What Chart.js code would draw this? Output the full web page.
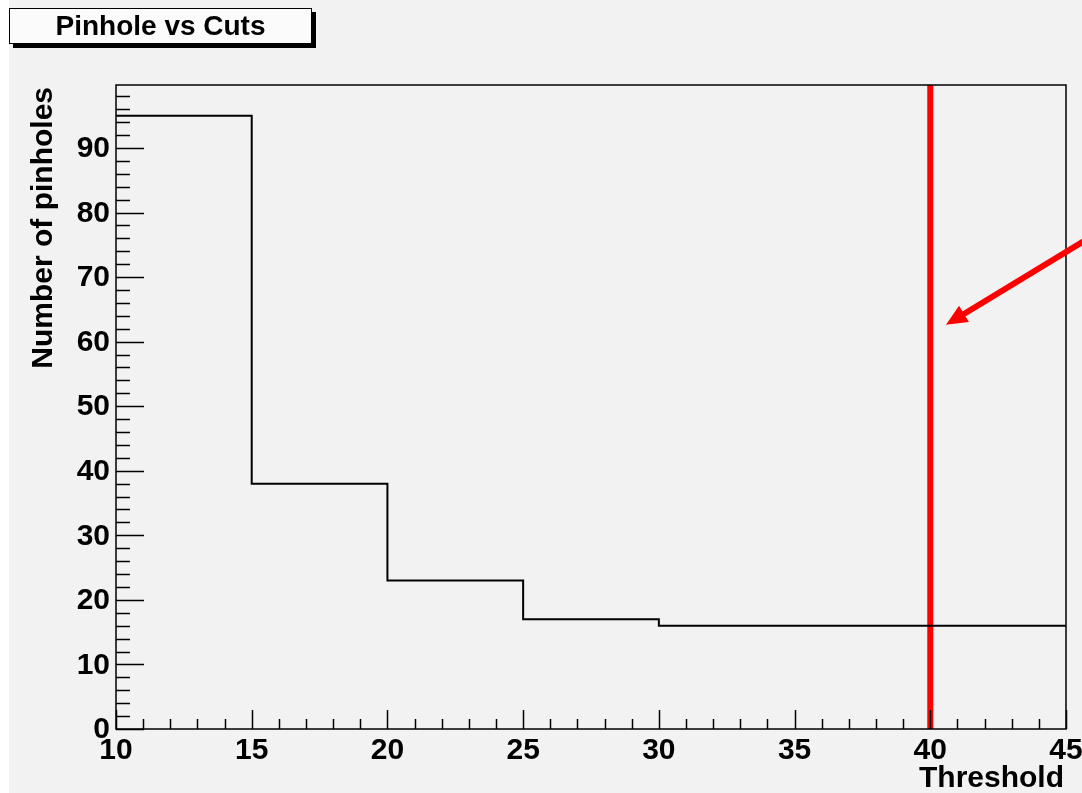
<!DOCTYPE html>
<html>
<head>
<meta charset="utf-8">
<script src="https://cdn.jsdelivr.net/npm/chart.js@4/dist/chart.umd.min.js"></script>
<style>
  html, body { margin: 0; padding: 0; background: #ffffff; }
  canvas { display: block; }
</style>
</head>
<body>
<canvas id="c" width="1082" height="793"></canvas>
<script>
// ---- data ----
const binEdges = [10, 15, 20, 25, 30, 35, 40, 45];
const pinholeCounts = [95, 38, 23, 17, 16, 16, 16];
const cutThreshold = 40;
const xTickLabels = [10, 15, 20, 25, 30, 35, 40, 45];
const yTickLabels = [0, 10, 20, 30, 40, 50, 60, 70, 80, 90];
const xRange = [10, 45];
const yRange = [0, 99.75];
const arrowTail = { x: 46.25, y: 77.1 };
const arrowHead = { x: 40.58, y: 62.6 };
const titleText = 'Pinhole vs Cuts';
const xTitle = 'Threshold';
const yTitle = 'Number of pinholes';

const histPoints = binEdges.map((x, i) => ({ x: x, y: pinholeCounts[Math.min(i, pinholeCounts.length - 1)] }));
const cutLine = [{ x: cutThreshold, y: yRange[0] }, { x: cutThreshold, y: yRange[1] }];

const FONT = 'bold 30px "Liberation Sans", Arial, Helvetica, sans-serif';

const rootStyle = {
  id: 'rootStyle',
  beforeDraw(chart) {
    const ctx = chart.ctx;
    ctx.save();
    ctx.fillStyle = '#ffffff';
    ctx.fillRect(0, 0, chart.width, chart.height);
    ctx.fillStyle = '#f2f2f2';
    ctx.fillRect(9, 0, chart.width - 9, chart.height);
    ctx.restore();
  },
  afterDatasetsDraw(chart) {
    const ctx = chart.ctx;
    const a = chart.chartArea;
    const xs = chart.scales.x, ys = chart.scales.y;
    ctx.save();
    ctx.strokeStyle = '#000';
    ctx.lineWidth = 1.5;
    ctx.strokeRect(a.left, a.top, a.right - a.left, a.bottom - a.top);
    ctx.lineWidth = 1.5;
    ctx.beginPath();
    for (let v = xRange[0]; v <= xRange[1]; v += 1) {
      const px = Math.round(xs.getPixelForValue(v)) + 0.5;
      const len = (v % 5 === 0) ? 19 : 10;
      ctx.moveTo(px, a.bottom);
      ctx.lineTo(px, a.bottom - len);
    }
    for (let v = yRange[0]; v <= yRange[1]; v += 2) {
      const py = Math.round(ys.getPixelForValue(v)) + 0.5;
      const len = (v % 10 === 0) ? 28 : 14;
      ctx.moveTo(a.left, py);
      ctx.lineTo(a.left + len, py);
    }
    ctx.stroke();
    ctx.restore();
  },
  afterDraw(chart) {
    const ctx = chart.ctx;
    const a = chart.chartArea;
    const xs = chart.scales.x, ys = chart.scales.y;
    ctx.save();
    ctx.fillStyle = '#000';
    ctx.font = FONT;
    ctx.textAlign = 'center';
    ctx.textBaseline = 'alphabetic';
    xTickLabels.forEach(v => {
      ctx.fillText(String(v), xs.getPixelForValue(v), 759);
    });
    ctx.textAlign = 'right';
    ctx.textBaseline = 'middle';
    yTickLabels.forEach(v => {
      ctx.fillText(String(v), 110, ys.getPixelForValue(v) + 1);
    });
    ctx.textBaseline = 'alphabetic';
    ctx.textAlign = 'right';
    ctx.fillText(xTitle, a.right - 2, 787);
    ctx.save();
    ctx.translate(52, 87);
    ctx.rotate(-Math.PI / 2);
    ctx.textAlign = 'right';
    ctx.fillText(yTitle, 0, 0);
    ctx.restore();

    // arrow
    const tx = xs.getPixelForValue(arrowTail.x), ty = ys.getPixelForValue(arrowTail.y);
    const hx = xs.getPixelForValue(arrowHead.x), hy = ys.getPixelForValue(arrowHead.y);
    const dx = tx - hx, dy = ty - hy;
    const L = Math.hypot(dx, dy);
    const ux = dx / L, uy = dy / L;
    const headLen = 21, headHalf = 9.5;
    const bx = hx + ux * headLen, by = hy + uy * headLen;
    ctx.strokeStyle = '#ff0000';
    ctx.fillStyle = '#ff0000';
    ctx.lineWidth = 6;
    ctx.lineCap = 'butt';
    ctx.beginPath();
    ctx.moveTo(tx, ty);
    ctx.lineTo(hx + ux * (headLen - 2), hy + uy * (headLen - 2));
    ctx.stroke();
    ctx.beginPath();
    ctx.moveTo(hx, hy);
    ctx.lineTo(bx - uy * headHalf, by + ux * headHalf);
    ctx.lineTo(bx + uy * headHalf, by - ux * headHalf);
    ctx.closePath();
    ctx.fill();

    // title box
    const bxL = 9, bxT = 8, bxW = 303, bxH = 36;
    ctx.fillStyle = '#000';
    ctx.fillRect(bxL + 4, bxT + 4, bxW, bxH);
    ctx.fillStyle = '#fbfbfb';
    ctx.fillRect(bxL, bxT, bxW, bxH);
    ctx.strokeStyle = '#000';
    ctx.lineWidth = 1;
    ctx.strokeRect(bxL + 0.5, bxT + 0.5, bxW - 1, bxH - 1);
    ctx.fillStyle = '#000';
    ctx.font = 'bold 28px "Liberation Sans", Arial, Helvetica, sans-serif';
    ctx.textAlign = 'center';
    ctx.textBaseline = 'alphabetic';
    ctx.fillText(titleText, bxL + bxW / 2, 35);
    ctx.restore();
  }
};

new Chart(document.getElementById('c'), {
  type: 'line',
  data: {
    datasets: [
      {
        label: 'pinholes',
        data: histPoints,
        stepped: 'before',
        borderColor: '#000000',
        borderWidth: 2,
        pointRadius: 0,
        fill: false
      },
      {
        label: 'cut',
        data: cutLine,
        borderColor: '#ff0000',
        borderWidth: 6,
        borderCapStyle: 'round',
        pointRadius: 0,
        fill: false,
        clip: { left: 5, right: 5, top: 0, bottom: 0 }
      }
    ]
  },
  options: {
    responsive: false,
    animation: false,
    events: [],
    layout: { padding: { left: 116, top: 85, right: 16, bottom: 64 } },
    plugins: { legend: { display: false }, tooltip: { enabled: false }, title: { display: false } },
    scales: {
      x: { type: 'linear', min: xRange[0], max: xRange[1], display: false },
      y: { type: 'linear', min: yRange[0], max: yRange[1], display: false }
    }
  },
  plugins: [rootStyle]
});
</script>
</body>
</html>
